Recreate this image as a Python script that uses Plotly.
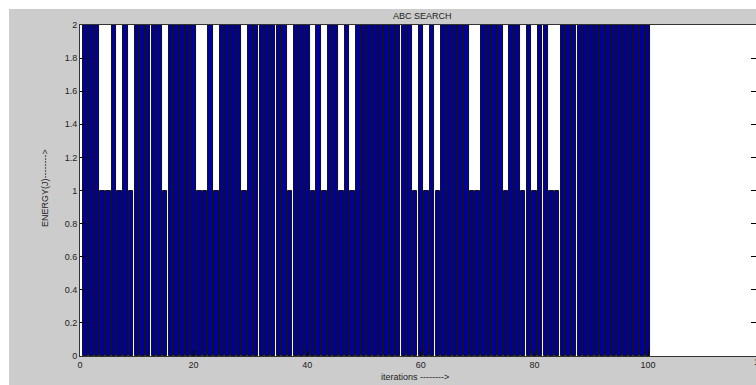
import plotly.graph_objects as go

# ---- data ----
iterations = list(range(1, 101))
energy = [2, 2, 2, 1, 1, 2, 1, 2, 1, 2,
          2, 2, 2, 2, 1, 2, 2, 2, 2, 2,
          1, 1, 2, 1, 2, 2, 2, 2, 1, 2,
          2, 2, 2, 2, 2, 2, 1, 2, 2, 2,
          1, 2, 1, 2, 2, 1, 2, 1, 2, 2,
          2, 2, 2, 2, 2, 2, 2, 2, 1, 2,
          1, 2, 1, 2, 2, 2, 2, 2, 1, 1,
          2, 2, 2, 2, 1, 2, 2, 1, 2, 1,
          2, 2, 1, 1, 2, 2, 2, 2, 2, 2,
          2, 2, 2, 2, 2, 2, 2, 2, 2, 2]
x_ticks = [0, 20, 40, 60, 80, 100]
y_ticks = [0, 0.2, 0.4, 0.6, 0.8, 1, 1.2, 1.4, 1.6, 1.8, 2]
y_tick_text = ["0", "0.2", "0.4", "0.6", "0.8", "1", "1.2", "1.4", "1.6", "1.8", "2"]
title_text = "ABC SEARCH"
x_label = "iterations -------->"
y_label = "ENERGY(J)-------->"

W, H = 756, 385
ML, MR, MT, MB = 80, 0, 25, 29
PW, PH = W - ML - MR, H - MT - MB

def px_x(p):
    return (p - ML) / PW

def px_y(p):
    return (H - MB - p) / PH

FONT = "Liberation Sans"
TXT = "#222222"
GRAY = "#cccccc"
FS = 9

fig = go.Figure()
fig.add_trace(go.Bar(
    x=iterations, y=energy, width=0.8,
    marker=dict(color="#0000a0", line=dict(color="#000000", width=0.9)),
    hoverinfo="skip", showlegend=False,
))
# invisible trace to own right-side y axis ticks
fig.add_trace(go.Scatter(x=[None], y=[None], yaxis="y2", showlegend=False, hoverinfo="skip"))

fig.update_layout(
    width=W, height=H, autosize=False,
    margin=dict(l=ML, r=MR, t=MT, b=MB, pad=0),
    paper_bgcolor=GRAY, plot_bgcolor="#ffffff",
    font=dict(family=FONT, size=FS, color=TXT),
    bargap=0,
    xaxis=dict(range=[0, 119], tickvals=x_ticks, ticktext=[str(v) for v in x_ticks],
               ticks="inside", ticklen=5, tickcolor="#000000",
               showline=True, linecolor="#333333", linewidth=1, mirror=True,
               showgrid=False, zeroline=False, tickfont=dict(size=FS, color=TXT)),
    yaxis=dict(range=[0, 2], tickvals=y_ticks, ticktext=y_tick_text,
               ticks="inside", ticklen=5, tickcolor="#000000",
               showline=True, linecolor="#333333", linewidth=1,
               showgrid=False, zeroline=False, tickfont=dict(size=FS, color=TXT)),
    yaxis2=dict(range=[0, 2], tickvals=y_ticks, overlaying="y", side="right",
                ticks="inside", ticklen=5, tickcolor="#000000",
                showticklabels=False, showline=False, showgrid=False, zeroline=False),
    hovermode=False,
    shapes=[
        dict(type="rect", xref="paper", yref="paper",
             x0=px_x(0), x1=px_x(W), y0=px_y(9), y1=px_y(0),
             fillcolor="#ffffff", line=dict(width=0), layer="below"),
        dict(type="rect", xref="paper", yref="paper",
             x0=px_x(0), x1=px_x(9), y0=px_y(H), y1=px_y(0),
             fillcolor="#ffffff", line=dict(width=0), layer="below"),
    ],
    annotations=[
        dict(text=title_text, xref="paper", yref="paper", x=px_x(422), y=px_y(16),
             xanchor="center", yanchor="middle", showarrow=False,
             font=dict(size=FS, color=TXT)),
        dict(text=x_label, xref="paper", yref="paper", x=px_x(415), y=px_y(377),
             xanchor="center", yanchor="middle", showarrow=False,
             font=dict(size=FS, color=TXT)),
        dict(text=y_label, xref="paper", yref="paper", x=px_x(45), y=px_y(188),
             xanchor="center", yanchor="middle", showarrow=False, textangle=-90,
             font=dict(size=FS, color=TXT)),
        dict(text="120", xref="paper", yref="paper", x=px_x(761), y=px_y(362),
             xanchor="center", yanchor="middle", showarrow=False,
             font=dict(size=FS, color=TXT)),
    ],
)

fig.write_html("out.html", config={"displayModeBar": False},
               post_script="document.body.style.margin='0';document.body.style.overflow='hidden';")
